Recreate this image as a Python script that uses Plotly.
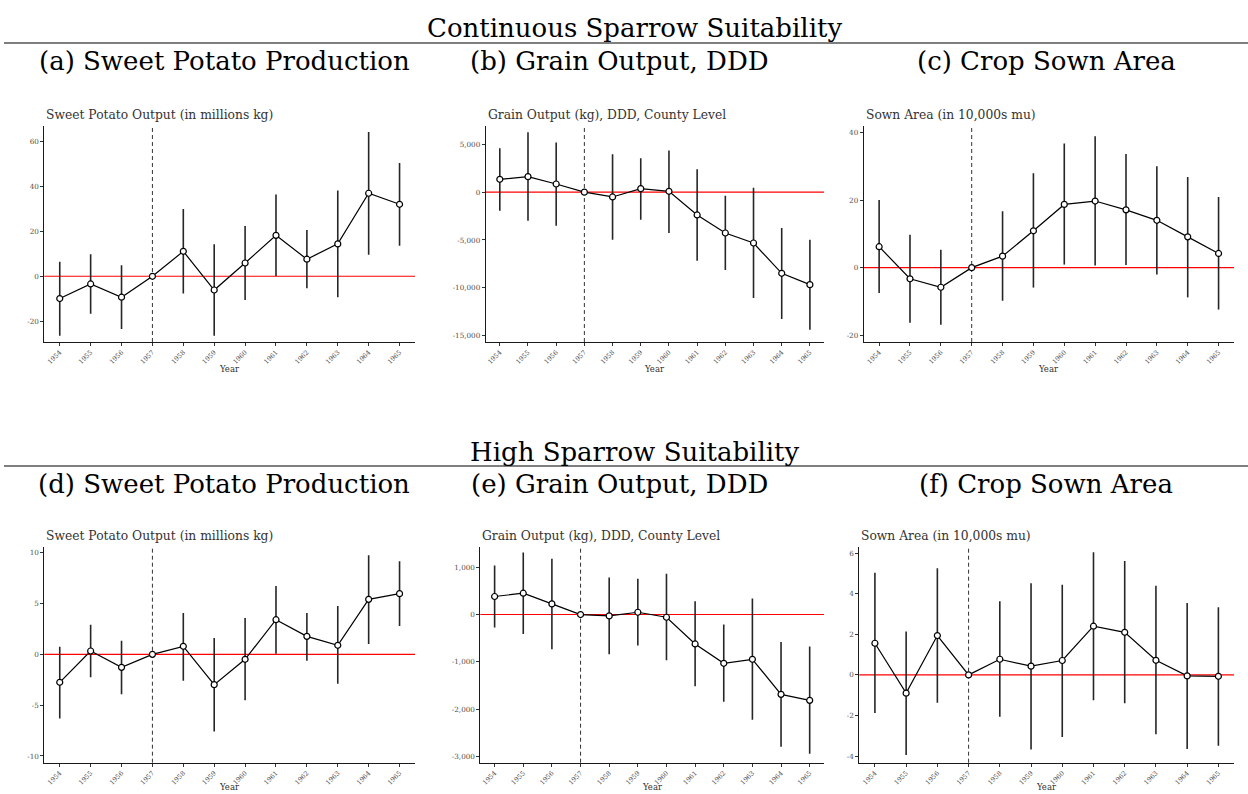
import plotly.graph_objects as go

# ---------------- data ----------------
years = [1954, 1955, 1956, 1957, 1958, 1959, 1960, 1961, 1962, 1963, 1964, 1965]

# (a) Continuous suitability: sweet potato output (millions kg)
a_est = [-9.9, -3.4, -9.3, 0, 11.1, -6.1, 5.9, 18.2, 7.6, 14.4, 36.9, 32.0]
a_lo = [-26.4, -16.7, -23.4, 0, -7.7, -26.4, -10.5, 0.1, -5.3, -9.3, 9.6, 13.6]
a_hi = [6.5, 9.8, 4.9, 0, 29.9, 14.2, 22.4, 36.3, 20.6, 38.1, 64.1, 50.4]
a_ticks = [-20, 0, 20, 40, 60]

# (b) Continuous suitability: grain output (kg), DDD
b_est = [1340, 1620, 850, 0, -505, 366, 87, -2387, -4268, -5314, -8484, -9669]
b_lo = [-1934, -2979, -3502, 0, -4965, -2875, -4268, -7160, -8136, -11063, -13258, -14373]
b_hi = [4582, 6254, 5174, 0, 3955, 3537, 4338, 2387, -366, 470, -3746, -4965]
b_ticks = [-15000, -10000, -5000, 0, 5000]

# (c) Continuous suitability: sown area (10,000s mu)
c_est = [6.2, -3.3, -5.8, 0, 3.4, 10.9, 18.7, 19.7, 17.1, 14.0, 9.1, 4.2]
c_lo = [-7.5, -16.3, -16.9, 0, -9.8, -5.9, 0.9, 0.6, 0.8, -2.0, -8.8, -12.4]
c_hi = [20.0, 9.7, 5.3, 0, 16.7, 27.9, 36.7, 38.9, 33.6, 30.0, 26.8, 20.9]
c_ticks = [-20, 0, 20, 40]

# (d) High suitability: sweet potato output
d_est = [-2.75, 0.33, -1.28, 0, 0.79, -2.98, -0.49, 3.41, 1.77, 0.89, 5.41, 5.97]
d_lo = [-6.3, -2.26, -3.93, 0, -2.59, -7.6, -4.52, 0.07, -0.62, -2.89, 1.02, 2.79]
d_hi = [0.75, 2.9, 1.34, 0, 4.07, 1.6, 3.57, 6.72, 4.07, 4.75, 9.74, 9.15]
d_ticks = [-10, -5, 0, 5, 10]

# (e) High suitability: grain output
e_est = [382, 452, 226, 0, -28, 49, -57, -622, -1032, -947, -1689, -1816]
e_lo = [-276, -410, -735, 0, -841, -657, -968, -1519, -1845, -2226, -2795, -2947]
e_hi = [1039, 1314, 1180, 0, 784, 756, 862, 283, -212, 339, -580, -678]
e_ticks = [-3000, -2000, -1000, 0, 1000]

# (f) High suitability: sown area
f_est = [1.56, -0.9, 1.94, 0, 0.77, 0.43, 0.71, 2.40, 2.10, 0.72, -0.05, -0.07]
f_lo = [-1.88, -3.95, -1.37, 0, -2.07, -3.68, -3.06, -1.25, -1.40, -2.93, -3.65, -3.49]
f_hi = [5.03, 2.14, 5.26, 0, 3.63, 4.52, 4.44, 6.05, 5.61, 4.39, 3.55, 3.34]
f_ticks = [-4, -2, 0, 2, 4, 6]

panel_titles = ["Sweet Potato Output (in millions kg)",
                "Grain Output (kg), DDD, County Level",
                "Sown Area (in 10,000s mu)"] * 2
sub_captions = ["(a) Sweet Potato Production", "(b) Grain Output, DDD", "(c) Crop Sown Area",
                "(d) Sweet Potato Production", "(e) Grain Output, DDD", "(f) Crop Sown Area"]
group_headers = ["Continuous Sparrow Suitability", "High Sparrow Suitability"]
treat_year = 1957
x_label = "Year"

# ---------------- layout geometry ----------------
W, H = 1248, 794
FONT = "DejaVu Serif"


def fx(p):
    return p / W


def fy(p):
    return 1 - p / H


boxes = [(44.3, 415, 126, 342), (485.7, 824, 126, 342), (863.7, 1234, 126, 342),
         (44.3, 415, 546.7, 762.7), (480.3, 824, 546.7, 762.7), (859.3, 1234, 546.7, 762.7)]
yranges = [(-29.2, 66.8), (-15660, 6910), (-22.0, 41.9),
           (-10.66, 10.59), (-3135, 1436), (-4.33, 6.32)]
title_y = [115, 115, 115, 535.5, 535.5, 535.5]
xlab_y = [369, 369, 369, 787, 787, 787]
caption_x = [224, 619, 1046, 224, 619, 1046]
caption_y = [61, 61, 61, 484, 484, 484]
header_y = [28, 452]
rule_y = [43, 466]

series = [(a_est, a_lo, a_hi, a_ticks), (b_est, b_lo, b_hi, b_ticks), (c_est, c_lo, c_hi, c_ticks),
          (d_est, d_lo, d_hi, d_ticks), (e_est, e_lo, e_hi, e_ticks), (f_est, f_lo, f_hi, f_ticks)]

fig = go.Figure()
shapes = []
annotations = []
layout_axes = {}

for i, (est, lo, hi, ticks) in enumerate(series):
    n = i + 1
    xa = "x" if n == 1 else f"x{n}"
    ya = "y" if n == 1 else f"y{n}"
    x0, x1, y0, y1 = boxes[i]

    fig.add_trace(go.Scatter(
        x=years, y=est, mode="lines+markers", xaxis=xa, yaxis=ya, showlegend=False,
        line=dict(color="black", width=1.2),
        marker=dict(size=6, color="white", line=dict(color="black", width=1.2)),
        error_y=dict(type="data", symmetric=False,
                     array=[h - e for h, e in zip(hi, est)],
                     arrayminus=[e - l for e, l in zip(est, lo)],
                     width=0, thickness=1.6, color="#262626"),
        hoverinfo="x+y",
    ))

    axis_common = dict(showline=True, linecolor="#1a1a1a", linewidth=1, ticks="outside",
                       ticklen=3, tickcolor="#333333", tickwidth=0.8, showgrid=False,
                       zeroline=False)
    layout_axes["xaxis" if n == 1 else f"xaxis{n}"] = dict(
        domain=[fx(x0), fx(x1)], range=[1953.5, 1965.5], anchor=ya,
        tickvals=years, ticktext=[str(y) for y in years], tickangle=-45,
        tickfont=dict(family=FONT, size=6.5, color="#4d4d4d"), **axis_common)
    layout_axes["yaxis" if n == 1 else f"yaxis{n}"] = dict(
        domain=[fy(y1), fy(y0)], range=list(yranges[i]), anchor=xa,
        tickvals=ticks, ticktext=[f"{t:,}" for t in ticks],
        tickfont=dict(family=FONT, size=7.2, color="#4d4d4d"), **axis_common)

    shapes.append(dict(type="line", xref=f"{xa} domain", yref=ya, x0=0, x1=1, y0=0, y1=0,
                       line=dict(color="red", width=1.1), layer="below"))
    shapes.append(dict(type="line", xref=xa, yref=f"{ya} domain", x0=treat_year, x1=treat_year,
                       y0=0, y1=1, line=dict(color="#333333", width=1, dash="4px,3px"),
                       layer="below"))

    annotations.append(dict(text=panel_titles[i], xref="paper", yref="paper",
                            x=fx(x0), y=fy(title_y[i]), xanchor="left", yanchor="middle",
                            showarrow=False, font=dict(family=FONT, size=12.3, color="#333333")))
    annotations.append(dict(text=x_label, xref="paper", yref="paper",
                            x=fx((x0 + x1) / 2), y=fy(xlab_y[i]), xanchor="center",
                            yanchor="middle", showarrow=False,
                            font=dict(family=FONT, size=8.5, color="#333333")))
    annotations.append(dict(text=sub_captions[i], xref="paper", yref="paper",
                            x=fx(caption_x[i]), y=fy(caption_y[i]), xanchor="center",
                            yanchor="middle", showarrow=False,
                            font=dict(family=FONT, size=26, color="black")))

for k in range(2):
    annotations.append(dict(text=group_headers[k], xref="paper", yref="paper",
                            x=fx(634), y=fy(header_y[k]), xanchor="center", yanchor="middle",
                            showarrow=False, font=dict(family=FONT, size=26, color="black")))
    shapes.append(dict(type="line", xref="paper", yref="paper", x0=fx(4), x1=1,
                       y0=fy(rule_y[k]), y1=fy(rule_y[k]),
                       line=dict(color="black", width=1.2)))

fig.update_layout(width=W, height=H, margin=dict(l=0, r=0, t=0, b=0),
                  paper_bgcolor="white", plot_bgcolor="white",
                  shapes=shapes, annotations=annotations, **layout_axes)

fig.write_html("out.html", config={"displayModeBar": False},
               post_script="document.body.style.margin='0px';")
